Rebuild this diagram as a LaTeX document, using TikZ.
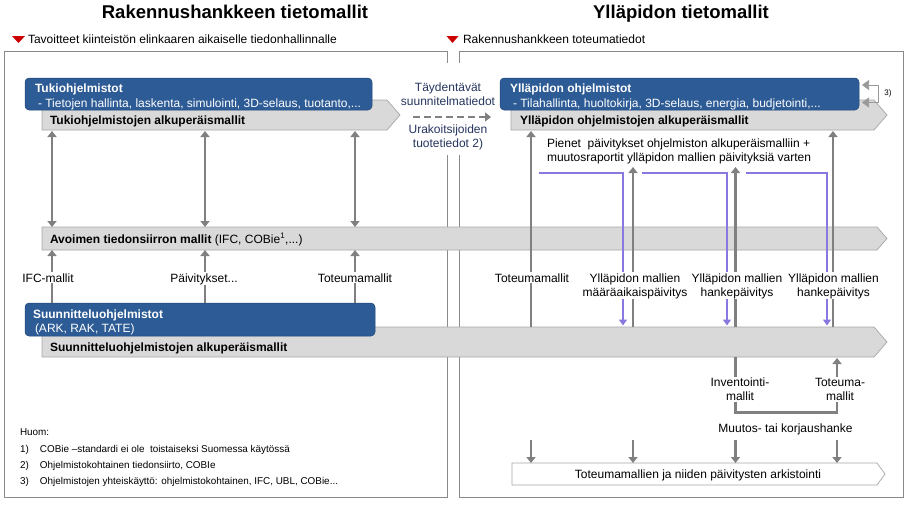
\documentclass[tikz,border=0pt]{standalone}
\usepackage{fontspec}
\setmainfont{Liberation Sans}
\usetikzlibrary{arrows.meta,calc}
\definecolor{boxblue}{HTML}{2D5B95}
\definecolor{boxedge}{HTML}{24497A}
\definecolor{bandgray}{HTML}{D9D9D9}
\definecolor{bandedge}{HTML}{A6A6A6}
\definecolor{arrgray}{HTML}{808080}
\definecolor{purp}{HTML}{8878E0}
\definecolor{navy}{HTML}{25355E}
\definecolor{redtri}{HTML}{CC0000}
\definecolor{panelgray}{HTML}{8A8A8A}
\tikzset{
  gtip/.tip={Triangle[length=6pt,width=9pt]},
  ptip/.tip={Triangle[length=6pt,width=8pt]},
  ltip/.tip={Triangle[length=7pt,width=10pt]}
}
\newcommand\bandpoly[3]{\draw[#2] (#1.north west) -- (#1.north east) -- ($(#1.east)+(#3,0)$) -- (#1.south east) -- (#1.south west) -- cycle;}
\begin{document}
\begin{tikzpicture}[x=1pt,y=-1pt,
  every node/.style={inner sep=0pt,outer sep=0pt},
  txt/.style={font=\fontsize{12}{14}\selectfont},
  btxt/.style={font=\bfseries\fontsize{12}{14}\selectfont},
  wtxt/.style={font=\fontsize{12}{14.5}\selectfont, text=white, align=left},
  mtxt/.style={font=\fontsize{12}{13.5}\selectfont, text=navy, align=center},
  ntxt/.style={font=\fontsize{9.9}{11}\selectfont},
  lbl/.style={font=\fontsize{12}{14}\selectfont, fill=white, align=center, inner sep=1pt},
  ttl/.style={font=\bfseries\fontsize{18.5}{22}\selectfont},
  bodybox/.style={anchor=north west},
  bandfill/.style={fill=bandgray, draw=bandedge, line width=0.7pt},
  bandwhite/.style={fill=white, draw=bandedge, line width=0.7pt},
  bluebox/.style={anchor=north west, fill=boxblue, draw=boxedge, line width=0.5pt, rounded corners=4pt},
  panelline/.style={draw=panelgray, line width=1pt},
  garrow/.style={draw=arrgray, line width=2.5pt, -gtip},
  gdbl/.style={draw=arrgray, line width=2.5pt, gtip-gtip},
  gline/.style={draw=arrgray, line width=2.5pt},
  pline/.style={draw=purp, line width=2pt, -ptip},
  dasharrow/.style={draw=arrgray, line width=2.5pt, dash pattern=on 7pt off 4pt, -gtip},
  loopthree/.style={draw=arrgray!80, line width=0.6pt, ltip-ltip},
]
\useasboundingbox (0,0) rectangle (907,504);

% coordinates
\coordinate (xA) at (52,0);
\coordinate (xB) at (205,0);
\coordinate (xC) at (355,0);
\coordinate (xR1) at (531,0);
\coordinate (xR2) at (633,0);
\coordinate (xR3) at (735.5,0);
\coordinate (xR4) at (833,0);
\coordinate (xT) at (837,0);
\coordinate (xP1) at (623,0);
\coordinate (xP2) at (727,0);
\coordinate (xP3) at (827,0);
\coordinate (xQ1) at (539,0);
\coordinate (xQ2) at (642,0);
\coordinate (xQ3) at (746,0);
\coordinate (yP) at (0,173);
\coordinate (yArr) at (0,167);
\coordinate (yBot) at (0,440);
\coordinate (dA) at (413,117);
\coordinate (dB) at (491,117);

% titles
\node[ttl, anchor=base] (t1) at (235,18) {Rakennushankkeen tietomallit};
\node[ttl, anchor=base] (t2) at (681,18) {Ylläpidon tietomallit};

% subtitles
\fill[redtri] (12,36) -- (25,36) -- (18.5,43) -- cycle;
\node[txt, anchor=base west] (s1) at (28,43.5) {Tavoitteet kiinteistön elinkaaren aikaiselle tiedonhallinnalle};
\fill[redtri] (446.5,36) -- (458.5,36) -- (452.5,43) -- cycle;
\node[txt, anchor=base west] (s2) at (463,43.5) {Rakennushankkeen toteumatiedot};

% panels
\draw[panelline] (4,51) rectangle (447,497);
\draw[panelline] (459,51) rectangle (903,497);
\fill[white] (408,63) rectangle (492,155);

% bands
\node[bodybox, minimum width=345pt, minimum height=30pt] (tukiband) at (42,100) {};
\bandpoly{tukiband}{bandfill}{13}
\node[bodybox, minimum width=363pt, minimum height=30pt] (yllaband) at (511,100) {};
\bandpoly{yllaband}{bandfill}{13}
\node[bodybox, minimum width=835pt, minimum height=23pt] (avoinband) at (42,227) {};
\bandpoly{avoinband}{bandfill}{10}
\node[bodybox, minimum width=832pt, minimum height=30pt] (suunband) at (42,327) {};
\bandpoly{suunband}{bandfill}{13}
\node[bodybox, minimum width=365pt, minimum height=22pt] (arkband) at (512,463) {};
\bandpoly{arkband}{bandwhite}{8}

\node[btxt, anchor=base west] (tukiT) at (50,124.5) {Tukiohjelmistojen alkuperäismallit};
\node[btxt, anchor=base west] (yllaT) at (520,124.5) {Ylläpidon ohjelmistojen alkuperäismallit};
\node[txt, anchor=base west] (avoinT) at (50,243) {\textbf{Avoimen tiedonsiirron mallit} (IFC, COBie\textsuperscript{1},...)};
\node[btxt, anchor=base west] (suunT) at (50,351.5) {Suunnitteluohjelmistojen alkuperäismallit};
\node[txt, anchor=base] (arkT) at (698,478.5) {Toteumamallien ja niiden päivitysten arkistointi};

% blue boxes
\node[bluebox, minimum width=347pt, minimum height=32pt] (tuki) at (25,78) {};
\node[wtxt, anchor=base west] (tukiH) at (35,107) {\textbf{Tukiohjelmistot}\\\hspace*{3pt}- Tietojen hallinta, laskenta, simulointi, 3D-selaus, tuotanto,...};
\node[bluebox, minimum width=359pt, minimum height=32pt] (ylla) at (500,78) {};
\node[wtxt, anchor=base west] (yllaH) at (510,107) {\textbf{Ylläpidon ohjelmistot}\\\hspace*{3pt}- Tilahallinta, huoltokirja, 3D-selaus, energia, budjetointi,...};
\node[bluebox, minimum width=350pt, minimum height=33pt] (suun) at (25,303) {};
\node[wtxt, anchor=base west] (suunH) at (33,332.5) {\textbf{Suunnitteluohjelmistot}\\\hspace*{2pt}(ARK, RAK, TATE)};

% loop 3)
\draw[loopthree] ($(ylla.north east)+(3,7)$) -- ++(16,0) -- ++(0,17.5) -- ++(-16,0);
\node[font=\fontsize{8}{9}\selectfont] (n3) at (888,93) {3)};

% middle
\node[mtxt, anchor=base] (tayd) at (448,105) {Täydentävät\\suunnitelmatiedot};
\node[mtxt, anchor=base] (urak) at (448,147) {Urakoitsijoiden\\tuotetiedot 2)};
\draw[dasharrow] (dA) -- (dB);

% left panel arrows
\foreach \p in {xA,xB,xC}{
  \draw[gdbl, shorten <=1pt] (\p |- tukiband.south) -- (\p |- avoinband.north);
  \draw[garrow] (\p |- suun.north) -- (\p |- avoinband.south);
}
\node[lbl, anchor=base] (lifc) at (48,282) {IFC-mallit};
\node[lbl, anchor=base] (lpaiv) at (204,282) {Päivitykset...};
\node[lbl, anchor=base] (ltot) at (355,282) {Toteumamallit};

% right panel arrows
\draw[garrow, shorten >=1pt] (xR1 |- suunband.north) -- (xR1 |- yllaband.south);
\draw[garrow, shorten >=1pt] (xR4 |- suunband.north) -- (xR4 |- yllaband.south);
\draw[garrow] (xR2 |- suunband.north) -- (xR2 |- yArr);
\draw[garrow] (xR3 |- suunband.north) -- (xR3 |- yArr);
\draw[pline, shorten >=1.5pt] (xQ1 |- yP) -| (xP1 |- suunband.north);
\draw[pline, shorten >=1.5pt] (xQ2 |- yP) -| (xP2 |- suunband.north);
\draw[pline, shorten >=1.5pt] (xQ3 |- yP) -| (xP3 |- suunband.north);

\node[txt, anchor=base west, align=left] (pienet) at (547,161.5) {Pienet\ \ päivitykset ohjelmiston alkuperäismalliin +\\muutosraportit ylläpidon mallien päivityksiä varten};

\node[lbl, anchor=base] (rtot) at (532,282) {Toteumamallit};
\node[lbl, anchor=base] (rmaa) at (635,296) {Ylläpidon mallien\\määräaikaispäivitys};
\node[lbl, anchor=base] (rhk1) at (737,296) {Ylläpidon mallien\\hankepäivitys};
\node[lbl, anchor=base] (rhk2) at (833.5,296) {Ylläpidon mallien\\hankepäivitys};

% below design band
\node[lbl, anchor=base] (inv) at (740,400.5) {Inventointi-\\mallit};
\node[lbl, anchor=base] (tot) at (840,400.5) {Toteuma-\\mallit};
\draw[gline] (xR3 |- suunband.south) -- (xR3 |- inv.north);
\draw[gline] (inv.south -| xR3) -- ++(0,11) -| (tot.south -| xT);
\draw[garrow, shorten >=1pt] (tot.north -| xT) -- (xT |- suunband.south);
\node[txt, anchor=base] (muutos) at (785.5,432) {Muutos- tai korjaushanke};
\foreach \p in {xR1,xR2,xR3,xT}{
  \draw[garrow] (\p |- yBot) -- (\p |- arkband.north);
}

% notes
\node[ntxt, anchor=base west] (huom) at (20,435.5) {Huom:};
\node[ntxt, anchor=base west] (n1) at (20,452.5) {\makebox[20pt][l]{1)}COBie –standardi ei ole\ \ toistaiseksi Suomessa käytössä};
\node[ntxt, anchor=base west] (n2) at (20,468.5) {\makebox[20pt][l]{2)}Ohjelmistokohtainen tiedonsiirto, COBIe};
\node[ntxt, anchor=base west] (n3b) at (20,484.5) {\makebox[20pt][l]{3)}Ohjelmistojen yhteiskäyttö: ohjelmistokohtainen, IFC, UBL, COBie...};
\end{tikzpicture}
\end{document}
